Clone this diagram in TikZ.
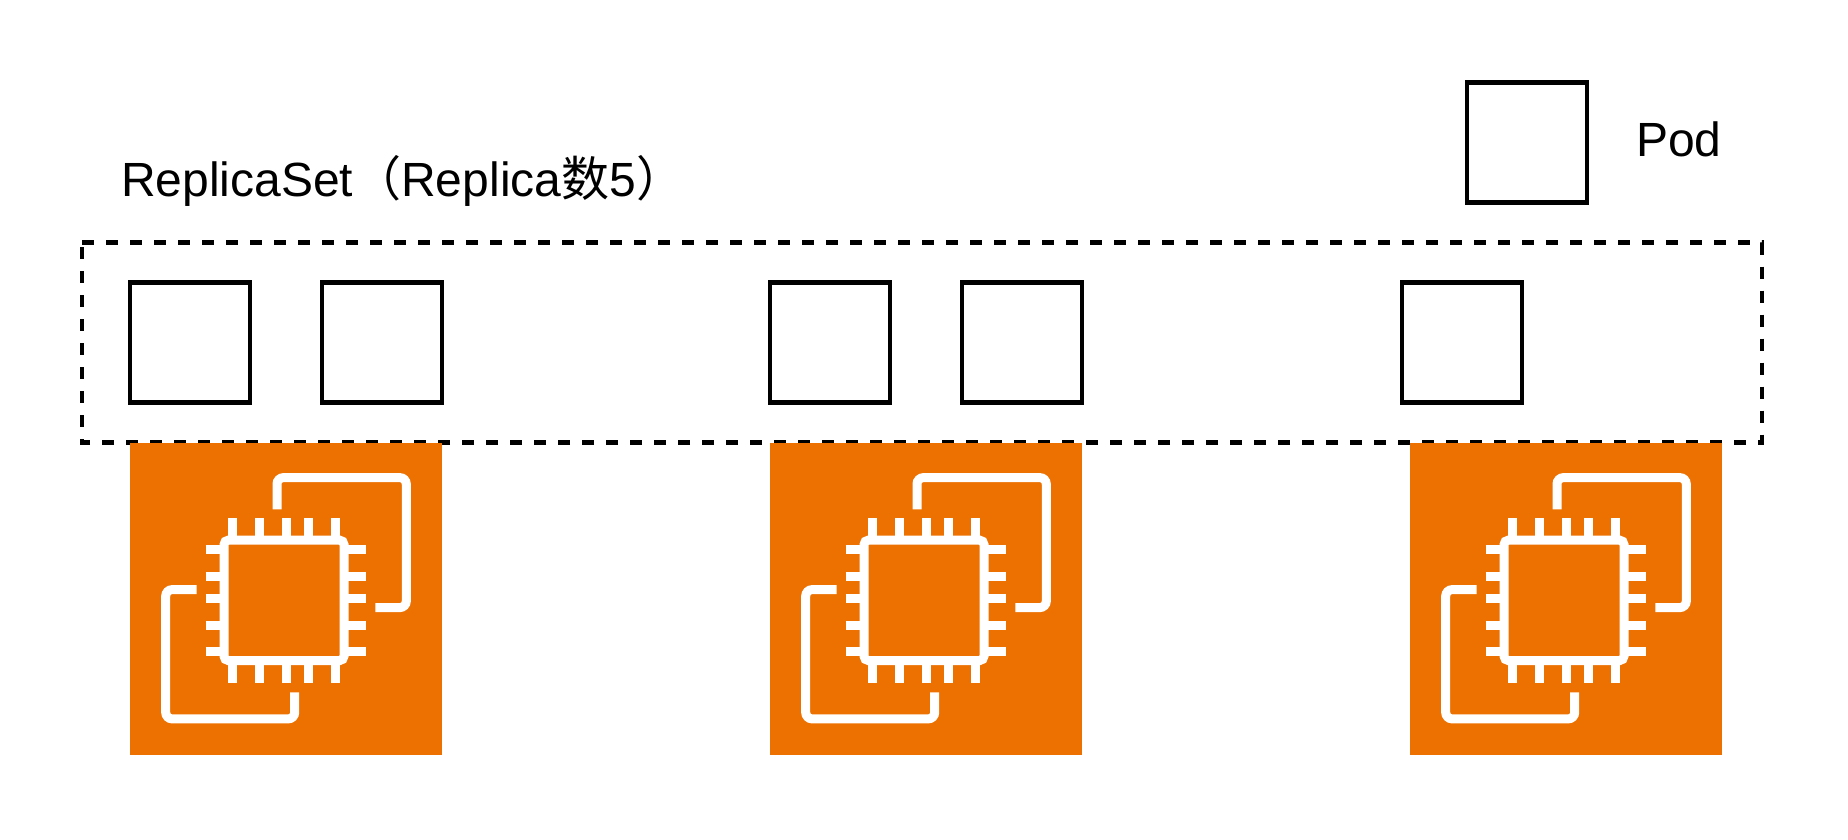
\documentclass[tikz,border=0pt]{standalone}
\usepackage{fontspec}
\setmainfont{Liberation Sans}
\newfontfamily\cjk{Noto Sans CJK SC}
\usepackage{tikz}
\definecolor{ec2orange}{HTML}{ED7100}
\tikzset{
    podbox/.style={draw=black, line width=4.5pt, minimum size=120pt, inner sep=0pt, outer sep=0pt},
    ec2box/.style={fill=ec2orange, minimum size=312pt, inner sep=0pt, outer sep=0pt},
    rsline/.style={line width=4.5pt, dash pattern=on 12pt off 12pt},
    chipline/.style={white, line width=9pt},
    biglabel/.style={font=\fontsize{48}{56}\selectfont, inner sep=0pt, anchor=base west},
    ec2icon/.pic={
        \draw[chipline, rounded corners=4.5pt] (94,97.5) rectangle (214,218);
        \draw[chipline] (102.7,75.7) -- (102.7,97) (129.3,75.7) -- (129.3,97) (156,75.7) -- (156,97) (178.3,75.7) -- (178.3,97) (205,75.7) -- (205,97);
        \draw[chipline] (102.7,218) -- (102.7,240.7) (129.3,218) -- (129.3,240.7) (156,218) -- (156,240.7) (178.3,218) -- (178.3,240.7) (205,218) -- (205,240.7);
        \draw[chipline] (75.7,106.7) -- (94,106.7) (75.7,133.7) -- (94,133.7) (75.7,156) -- (94,156) (75.7,182.7) -- (94,182.7) (75.7,209.3) -- (94,209.3);
        \draw[chipline] (214,106.7) -- (236,106.7) (214,133.7) -- (236,133.7) (214,156) -- (236,156) (214,182.7) -- (236,182.7) (214,209.3) -- (236,209.3);
        \draw[chipline, rounded corners=6.5pt] (147,66.7) -- (147,35) -- (276.3,35) -- (276.3,165) -- (245.3,165);
        \draw[chipline, rounded corners=6.5pt] (66.7,147) -- (35.7,147) -- (35.7,276.3) -- (164.7,276.3) -- (164.7,249.7);
    }
}
\begin{document}
\begin{tikzpicture}[x=1pt, y=-1pt]
    \useasboundingbox (0,-0.6) rectangle (1848,839.4);
    % legend
    \node[podbox] (podlegend) at (1527,142) {};
    \node[biglabel] (podlabel) at (1636,156) {Pod};
    \node[biglabel] (rslabel) at (121,196) {ReplicaSet{\cjk （}Replica{\cjk 数}5{\cjk ）}};
    % replica set frame
    \draw[rsline] (82,242) -- (1762,242) -- (1762,442) -- (82,442) -- cycle;
    % pods
    \node[podbox] (poda) at (190,342) {};
    \node[podbox] (podb) at (382,342) {};
    \node[podbox] (podc) at (830,342) {};
    \node[podbox] (podd) at (1022,342) {};
    \node[podbox] (pode) at (1462,342) {};
    % instances
    \node[ec2box] (ec2a) at (286,598) {};
    \node[ec2box] (ec2b) at (926,598) {};
    \node[ec2box] (ec2c) at (1566,598) {};
    \pic at (ec2a.north west) {ec2icon};
    \pic at (ec2b.north west) {ec2icon};
    \pic at (ec2c.north west) {ec2icon};
\end{tikzpicture}
\end{document}
